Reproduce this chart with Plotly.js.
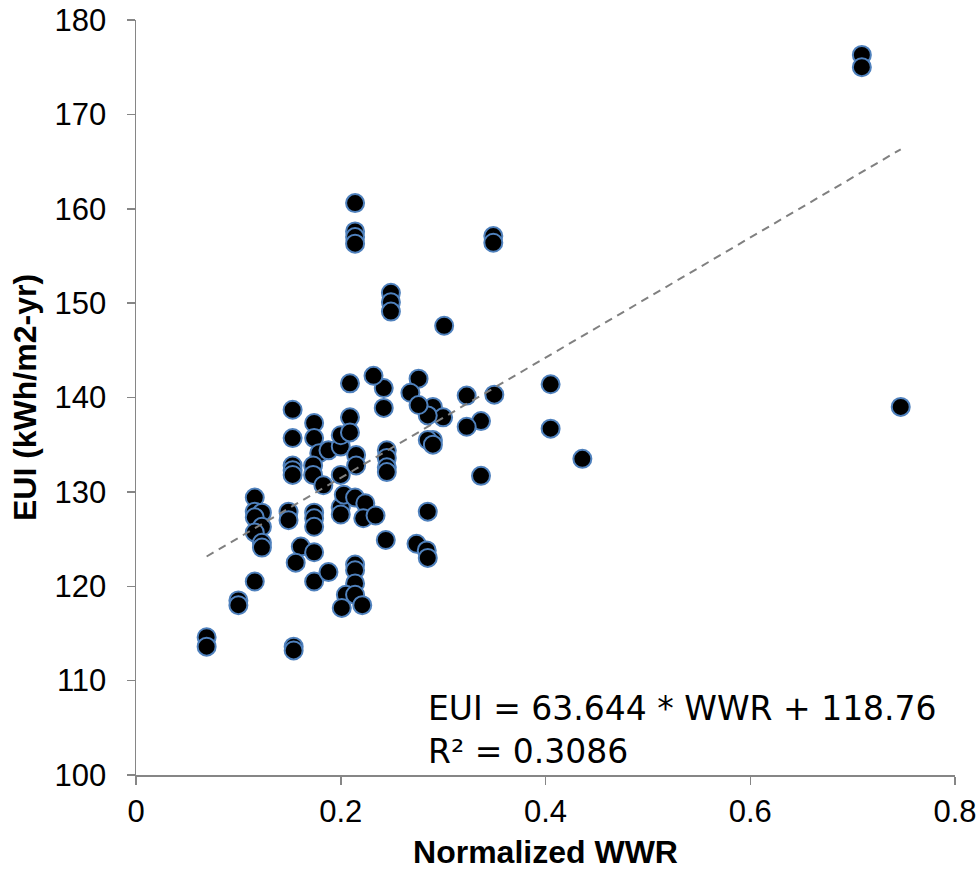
<!DOCTYPE html>
<html>
<head>
<meta charset="utf-8">
<script src="https://cdn.plot.ly/plotly-3.0.1.min.js"></script>
<style>html,body{margin:0;padding:0;background:#fff;}#chart{width:977px;height:870px;}</style>
</head>
<body>
<div id="chart"></div>
<script>
// Normalized WWR values
const wwr = [
  0.709, 0.709, 0.747,
  0.405, 0.405, 0.436,
  0.337, 0.350, 0.323, 0.337, 0.323,
  0.349, 0.349,
  0.301,
  0.249, 0.249, 0.249,
  0.214, 0.214, 0.214, 0.214,
  0.290, 0.300, 0.285, 0.276, 0.268, 0.276,
  0.242, 0.242, 0.232, 0.209,
  0.290, 0.285, 0.290,
  0.245, 0.245, 0.245, 0.245,
  0.285, 0.244, 0.274, 0.284, 0.285,
  0.153, 0.153, 0.153, 0.153, 0.153,
  0.174, 0.174, 0.179, 0.173, 0.173, 0.183,
  0.188, 0.200, 0.200, 0.209, 0.209, 0.215, 0.215, 0.200,
  0.116, 0.116, 0.123, 0.116, 0.123, 0.116, 0.123, 0.123,
  0.149, 0.149,
  0.174, 0.174, 0.174,
  0.200, 0.200, 0.203, 0.214, 0.224, 0.222, 0.234,
  0.161, 0.174, 0.156,
  0.116, 0.100, 0.100,
  0.174, 0.188,
  0.214, 0.214, 0.214, 0.205, 0.214, 0.201, 0.221,
  0.069, 0.069,
  0.154, 0.154
];
// EUI values (kWh/m2-yr)
const eui = [
  176.3, 175.0, 139.0,
  141.4, 136.7, 133.5,
  131.7, 140.3, 140.2, 137.5, 136.9,
  157.1, 156.4,
  147.6,
  151.1, 150.1, 149.1,
  160.6, 157.6, 157.0, 156.3,
  139.0, 137.9, 138.1, 142.0, 140.5, 139.2,
  141.0, 138.9, 142.3, 141.5,
  135.5, 135.5, 135.0,
  134.4, 133.6, 132.6, 132.1,
  127.9, 124.9, 124.5, 123.8, 123.0,
  138.7, 135.7, 132.8, 132.3, 131.8,
  137.3, 135.7, 134.1, 132.8, 131.8, 130.7,
  134.4, 134.8, 136.0, 137.9, 136.3, 133.9, 132.8, 131.8,
  129.4, 127.9, 127.8, 127.3, 126.3, 125.7, 124.6, 124.1,
  127.9, 127.0,
  127.8, 127.2, 126.3,
  128.4, 127.6, 129.7, 129.4, 128.8, 127.2, 127.5,
  124.2, 123.6, 122.5,
  120.5, 118.5, 118.0,
  120.5, 121.5,
  122.3, 121.7, 120.3, 119.1, 119.1, 117.7, 118.0,
  114.6, 113.6,
  113.6, 113.2
];
// Trendline coefficients (from the chart's equation)
const slope = 63.644;
const intercept = 118.76;
const r2 = 0.3086;

const xMin = Math.min(...wwr), xMax = Math.max(...wwr);
const trendX = [xMin, xMax];
const trendY = trendX.map(v => slope * v + intercept);

const axisColor = '#868686';
const tickFont = {family: 'Liberation Sans, Arial, sans-serif', size: 31, color: '#000'};
const titleFont = {family: 'Liberation Sans, Arial, sans-serif', size: 32, color: '#000', weight: 'bold'};

const data = [
  {
    type: 'scatter', mode: 'markers', x: wwr, y: eui,
    marker: {size: 18, color: '#000000', line: {color: '#4F81BD', width: 2}},
    hoverinfo: 'x+y', showlegend: false
  },
  {
    type: 'scatter', mode: 'lines', x: trendX, y: trendY,
    line: {color: '#808080', width: 2, dash: '8px,6px'},
    hoverinfo: 'skip', showlegend: false
  }
];

const layout = {
  width: 977, height: 870,
  margin: {l: 136, r: 22, t: 20, b: 95},
  paper_bgcolor: '#fff', plot_bgcolor: '#fff',
  showlegend: false,
  xaxis: {
    range: [0, 0.8], tickvals: [0, 0.2, 0.4, 0.6, 0.8], ticktext: ['0', '0.2', '0.4', '0.6', '0.8'],
    showgrid: false, zeroline: false, showline: true, linecolor: axisColor, linewidth: 1.5,
    ticks: 'outside', ticklen: 8, tickwidth: 1.5, tickcolor: axisColor,
    tickfont: tickFont,
    title: {text: '<b>Normalized WWR</b>', font: titleFont, standoff: 20}
  },
  yaxis: {
    range: [100, 180], tickvals: [100, 110, 120, 130, 140, 150, 160, 170, 180],
    showgrid: false, zeroline: false, showline: true, linecolor: axisColor, linewidth: 1.5,
    ticks: 'outside', ticklen: 8, tickwidth: 1.5, tickcolor: axisColor,
    tickfont: tickFont, ticklabelstandoff: 14,
    title: {text: '<b>EUI (kWh/m2-yr)</b>', font: titleFont, standoff: 8}
  },
  annotations: [{
    xref: 'x', yref: 'y', x: 0.2835, y: 104.8, xanchor: 'left', yanchor: 'middle',
    align: 'left', showarrow: false,
    text: 'EUI = ' + slope.toFixed(3) + ' * WWR + ' + intercept.toFixed(2) + '<br>R² = ' + r2.toFixed(4),
    font: {family: 'DejaVu Sans, Verdana, sans-serif', size: 33, color: '#000'}
  }]
};

Plotly.newPlot('chart', data, layout, {displayModeBar: false, staticPlot: true});
</script>
</body>
</html>
